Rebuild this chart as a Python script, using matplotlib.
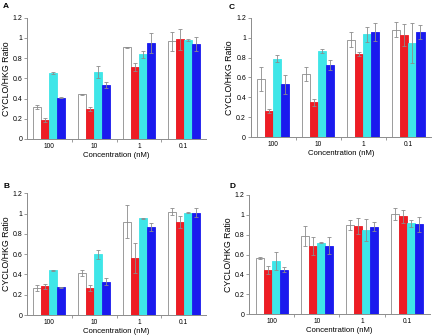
import matplotlib
matplotlib.use("Agg")
import matplotlib.pyplot as plt
import numpy as np

plt.rcParams["font.family"] = ["Liberation Sans", "DejaVu Sans"]

concentrations = ["100", "10", "1", "0.1"]
series_colors = ["white", "#ee1c24", "#3ee6e8", "#1a1aee"]

# values per panel: rows = series (white, red, cyan, blue), cols = concentrations
a_vals = [[0.32, 0.445, 0.91, 0.965],
          [0.19, 0.30, 0.715, 0.985],
          [0.65, 0.66, 0.84, 0.975],
          [0.41, 0.53, 0.95, 0.94]]
a_errs = [[0.02, 0.005, 0.005, 0.095],
          [0.02, 0.02, 0.04, 0.10],
          [0.01, 0.06, 0.035, 0.01],
          [0.005, 0.03, 0.10, 0.07]]

b_vals = [[0.27, 0.41, 0.92, 1.02],
          [0.285, 0.265, 0.56, 0.915],
          [0.44, 0.60, 0.955, 1.01],
          [0.275, 0.33, 0.87, 1.01]]
b_errs = [[0.03, 0.03, 0.16, 0.035],
          [0.025, 0.03, 0.15, 0.06],
          [0.005, 0.045, 0.005, 0.005],
          [0.005, 0.03, 0.04, 0.045]]

c_vals = [[0.585, 0.635, 0.98, 1.08],
          [0.26, 0.35, 0.84, 1.025],
          [0.79, 0.87, 1.035, 0.945],
          [0.53, 0.73, 1.055, 1.06]]
c_errs = [[0.12, 0.07, 0.075, 0.075],
          [0.02, 0.035, 0.02, 0.11],
          [0.035, 0.02, 0.075, 0.20],
          [0.10, 0.05, 0.09, 0.07]]

d_vals = [[0.56, 0.79, 0.90, 1.01],
          [0.44, 0.685, 0.89, 0.985],
          [0.535, 0.72, 0.85, 0.915],
          [0.445, 0.69, 0.88, 0.905]]
d_errs = [[0.01, 0.10, 0.05, 0.06],
          [0.04, 0.09, 0.08, 0.065],
          [0.095, 0.005, 0.11, 0.035],
          [0.025, 0.085, 0.045, 0.075]]

W, H = 432, 335
fig = plt.figure(figsize=(W / 100, H / 100), dpi=100)

# panel boxes in pixels: (left, right, y of 0, y of 1.2)
panels = [
    ("A", a_vals, a_errs, (27, 206, 139, 17.7), (3, 3)),
    ("C", c_vals, c_errs, (250.5, 431, 137.3, 17.7), (229, 4)),
    ("B", b_vals, b_errs, (27, 206, 315, 193.3), (3, 183)),
    ("D", d_vals, d_errs, (249, 430, 314.3, 194.7), (229, 183)),
]

grey = "#8c8c8c"
bar_w = 0.178
x = np.arange(len(concentrations))

for letter, vals, errs, (l, r, yb, yt), (lx, ly) in panels:
    ax = fig.add_axes([l / W, 1 - yb / H, (r - l) / W, (yb - yt) / H])
    for i, (v, e, col) in enumerate(zip(vals, errs, series_colors)):
        xs = x + (i - 1.5) * bar_w
        ax.bar(xs, v, width=bar_w, color=col,
               edgecolor=grey if col == "white" else col, linewidth=0.6)
        ax.errorbar(xs, v, yerr=e, fmt="none", ecolor=grey,
                    elinewidth=0.6, capsize=1.2, capthick=0.6)
    ax.set_xlim(-0.5, 3.5)
    ax.set_ylim(0, 1.2)
    ax.set_yticks([0, 0.2, 0.4, 0.6, 0.8, 1.0, 1.2])
    ax.set_yticklabels(["0", "0.2", "0.4", "0.6", "0.8", "1", "1.2"])
    ax.set_xticks(x)
    ax.set_xticklabels(concentrations)
    ax.set_xticks([0.5, 1.5, 2.5], minor=True)
    ax.tick_params(axis="x", which="major", length=0, labelsize=4.8, pad=3)
    ax.tick_params(axis="x", which="minor", length=2, width=0.6, color=grey)
    ax.tick_params(axis="y", length=2, width=0.6, color=grey, labelsize=5, pad=1.2)
    for side in ["top", "right"]:
        ax.spines[side].set_visible(False)
    for side in ["left", "bottom"]:
        ax.spines[side].set_color(grey)
        ax.spines[side].set_linewidth(0.7)
    ax.set_ylabel("CYCLO/HKG Ratio", fontsize=6.3, labelpad=1.5)
    ax.set_xlabel("Concentration (nM)", fontsize=5.6, labelpad=1)
    fig.text(lx / W, 1 - ly / H, letter, fontsize=6, fontweight="bold",
             ha="left", va="top")

fig.savefig("out.png", dpi=100)
